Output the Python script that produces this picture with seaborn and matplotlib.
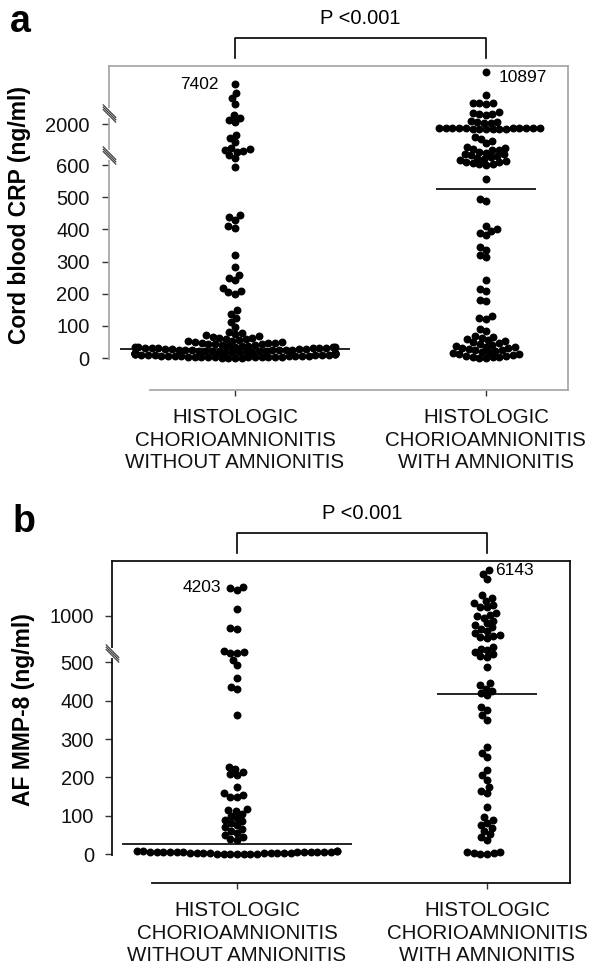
import numpy as np
import pandas as pd
import matplotlib
matplotlib.use("Agg")
import matplotlib.pyplot as plt
import matplotlib.transforms as mtransforms
from matplotlib.collections import PathCollection
from matplotlib.path import Path
import seaborn as sns

# ---------------- data ----------------
groups = ["HISTOLOGIC\nCHORIOAMNIONITIS\nWITHOUT AMNIONITIS",
          "HISTOLOGIC\nCHORIOAMNIONITIS\nWITH AMNIONITIS"]

crp_without = [7402, 5800, 4900, 3900, 2300, 2200, 2140, 2070, 1620, 1520, 1390,
               1180, 1150, 1110, 1080, 1050, 940, 840, 593,
               444, 440, 430, 410, 405,
               320, 283, 258, 250, 242, 217, 210, 205, 200,
               149, 137, 124, 112, 96,
               80, 77, 74, 71, 68, 66, 64, 62, 60, 58, 56, 54, 52, 50, 49, 48,
               47, 46, 45, 44, 43, 42,
               0, 0, 1, 1, 2, 2, 3, 3, 4, 4, 5, 5, 6, 6, 7, 7, 8, 8, 9, 9, 10,
               11, 11, 12, 13, 13, 14, 15, 15, 16, 17, 17, 18, 19, 20, 20, 21, 22,
               23, 23, 24, 25, 26, 26, 27, 28, 29, 30, 30, 31, 32, 33, 34, 35, 36,
               37, 38, 39, 40,
               2, 4, 5, 6, 8, 10, 12, 14, 15, 16, 18, 20, 22, 24, 25, 26, 28, 30,
               32, 34]
crp_with = [10897, 5450, 4100, 4050, 4000, 3950, 2420, 2380, 2350, 2330, 2300,
            2100, 2080, 2060, 2050, 2040,
            1880, 1875, 1870, 1865, 1860, 1858, 1855, 1852, 1850, 1848, 1845,
            1842, 1840, 1838, 1835, 1830,
            1560, 1500, 1420, 1350,
            1210, 1180, 1150, 1120, 1100, 1060, 1020, 990, 960, 930, 900, 870,
            840, 810, 780, 750, 720, 690, 660, 640, 620, 600,
            556, 495, 488, 410, 400, 395, 388, 382, 345, 335, 320, 314, 242, 215,
            208, 182, 176, 130, 125, 120, 90, 84,
            70, 66, 62, 58, 55, 52, 49, 46, 43, 40, 38, 36, 34, 32, 30, 28, 26,
            24, 22, 20, 18, 16, 14, 12, 10, 8, 6, 4, 3, 2, 1, 0]
mmp8_without = [4203, 4100, 3950, 1783, 871, 860, 620, 613, 605, 600, 527, 494,
                460, 436, 430, 363, 228, 222, 215, 210, 206, 175, 158, 154, 150,
                148, 118, 115, 112,
                105, 100, 95, 90, 85, 80, 75, 70, 65, 60, 55, 50, 45, 40, 37,
                8, 8, 7, 7, 6, 6, 6, 6, 5, 5, 5, 5, 4, 4, 4, 4, 3, 3, 3, 3, 3, 2,
                2, 2, 2, 1, 1, 1, 1, 0, 0, 0]
mmp8_with = [6143, 5700, 5100, 3300, 3000, 2700, 2400, 2200, 2050, 2000, 1300,
             1150, 1000, 980, 950, 920, 900, 880, 860, 840, 820, 800, 790, 775,
             760, 667, 650, 630, 610, 590, 575, 559, 488, 446, 440, 432, 425, 420,
             415, 384, 375, 362, 350, 279, 265, 253, 219, 205, 193, 175, 165, 159,
             123, 97, 90, 82, 75, 68, 60, 52, 45, 37, 5, 4, 3, 2, 1, 0]
crp_medians = [28, 525]
mmp8_medians = [26, 418]
crp_ticks = [0, 100, 200, 300, 400, 500, 600, 2000]
mmp8_ticks = [0, 100, 200, 300, 400, 500, 1000]
crp_max = [7402, 10897]
mmp8_max = [4203, 6143]
p_text = "P <0.001"
crp_label = "Cord blood CRP (ng/ml)"
mmp8_label = "AF MMP-8 (ng/ml)"

# ---------------- broken-axis scale definitions ----------------
BIG = 1e6
crp_kv = [-BIG, 0, 600, 2000, 2400, 7402, 10897, BIG]
crp_ku = [-BIG * 0.322, 0, 193, 234, 245.7, 274, 286, 286 + (BIG - 10897) * 0.0034]
mmp_kv = [-BIG, 0, 500, 1000, BIG]
mmp_ku = [-BIG * 0.383, 0, 191.5, 238, 238 + (BIG - 1000) * 0.00894]

SWARM_SIZE = 4.6     # spacing used for the swarm layout
DOT_SIZE = 5.7       # drawn dot diameter (points) -> dots overlap like original


def make_scale(kv, ku):
    kv = np.asarray(kv, float)
    ku = np.asarray(ku, float)

    def fwd(v):
        return np.interp(np.asarray(v, float), kv, ku)

    def inv(u):
        return np.interp(np.asarray(u, float), ku, kv)
    return fwd, inv


plt.rcParams["font.family"] = ["Liberation Sans", "DejaVu Sans"]

W, H = 604, 975
fig = plt.figure(figsize=(W / 100, H / 100), dpi=100)


def px_axes(l, t, r, b):
    return fig.add_axes([l / W, (H - b) / H, (r - l) / W, (b - t) / H])


BRK = Path([(-1, 1.35), (1, -0.65), (-1, 1.0), (1, -1.0), (-1, 0.65), (1, -1.35)],
           [Path.MOVETO, Path.LINETO, Path.MOVETO, Path.LINETO,
            Path.MOVETO, Path.LINETO])


def panel(ax, without, with_, medians, ticks, kv, ku, ylim, spine_col,
          ylabel, maxvals, max_offsets, breaks, letter, letter_xy, ypad,
          xleft_spine, xlim):
    fwd, inv = make_scale(kv, ku)
    ax.set_yscale("function", functions=(fwd, inv))
    ax.set_ylim(*ylim)
    df = pd.DataFrame({"group": [groups[0]] * len(without) + [groups[1]] * len(with_),
                       "value": list(without) + list(with_)})
    sns.swarmplot(data=df, x="group", y="value", order=groups, color="black",
                  size=SWARM_SIZE, linewidth=0, ax=ax, warn_thresh=1.0)
    ax.set_yscale("function", functions=(fwd, inv))
    ax.set_ylim(*ylim)
    ax.set_xlim(*xlim)
    # medians
    for i, (m, hw) in enumerate(zip(medians, [0.46, 0.2])):
        ax.hlines(m, i - hw, i + hw, color="black", lw=1.2, zorder=4)
    ax.set_yticks(ticks)
    ax.set_yticklabels([str(t) for t in ticks])
    ax.set_xlabel("")
    ax.set_ylabel("")
    ax.tick_params(axis="y", length=5, width=1, pad=ypad, labelsize=14.5,
                   color="#333333", labelcolor="#111111")
    ax.tick_params(axis="x", length=4, width=1, pad=9, labelsize=14.8,
                   color="#333333", labelcolor="#111111")
    for lbl in ax.get_xticklabels():
        lbl.set_linespacing(1.24)
    for s in ax.spines.values():
        s.set_color(spine_col)
        s.set_linewidth(1.3)
    ax.spines["left"].set_bounds(-3, ylim[1])
    ax.spines["bottom"].set_bounds(xleft_spine, xlim[1])
    ax.set_facecolor("white")
    # y label
    ax.text(-0.194, 0.54, ylabel, transform=ax.transAxes, rotation=90,
            ha="center", va="center", fontsize=16.5, fontweight="bold")
    # bracket and p value
    tr = mtransforms.blended_transform_factory(ax.transData, ax.transAxes)
    ax.plot([0, 0, 1, 1], [1.025, 1.087, 1.087, 1.025], transform=tr,
            color="black", lw=1.2, clip_on=False)
    ax.text(0.5, 1.148, p_text, transform=tr, ha="center", va="center",
            fontsize=14.5)
    # max value annotations
    for i, (mv, (dx, dy, ha)) in enumerate(zip(maxvals, max_offsets)):
        ax.annotate(str(mv), xy=(i, mv), xytext=(dx, dy),
                    textcoords="offset pixels", ha=ha, va="center",
                    fontsize=12.5)
    # axis break marks
    trb = mtransforms.blended_transform_factory(ax.transAxes, ax.transData)
    for bv in breaks:
        ax.plot([0], [bv], transform=trb, marker="s", markersize=7,
                color="white", markeredgewidth=0, clip_on=False, zorder=5)
        ax.plot([0], [bv], transform=trb, marker=BRK, markersize=13,
                color="#444444", markeredgewidth=0.9, fillstyle="none",
                linestyle="none", clip_on=False, zorder=6)
    fig.text(letter_xy[0] / W, 1 - letter_xy[1] / H, letter, fontsize=27,
             fontweight="bold", ha="center", va="center")


ax_a = px_axes(109, 66, 568, 390)
panel(ax_a, crp_without, crp_with, crp_medians, crp_ticks, crp_kv, crp_ku,
      (-99, 12660), "#a8a8a8", crp_label, crp_max,
      [(-16, 0, "right"), (13, -6, "left")], [945, 2390], "a", (20, 22), 9,
      -0.339, (-0.502, 1.327))

ax_b = px_axes(112, 561, 570, 883)
panel(ax_b, mmp8_without, mmp8_with, mmp8_medians, mmp8_ticks, mmp_kv, mmp_ku,
      (-75.7, 7150), "#111111", mmp8_label, mmp8_max,
      [(-16, 0, "right"), (8, 0, "left")], [605], "b", (24, 522), 8,
      -0.34, (-0.5, 1.332))

# lay the swarms out once, then freeze the positions and draw bigger dots
fig.canvas.draw()
for ax in (ax_a, ax_b):
    for coll in ax.collections:
        if isinstance(coll, PathCollection) and "draw" in coll.__dict__:
            del coll.draw
            coll.set_sizes([DOT_SIZE ** 2])

fig.savefig("out.png", dpi=100, facecolor="white")
